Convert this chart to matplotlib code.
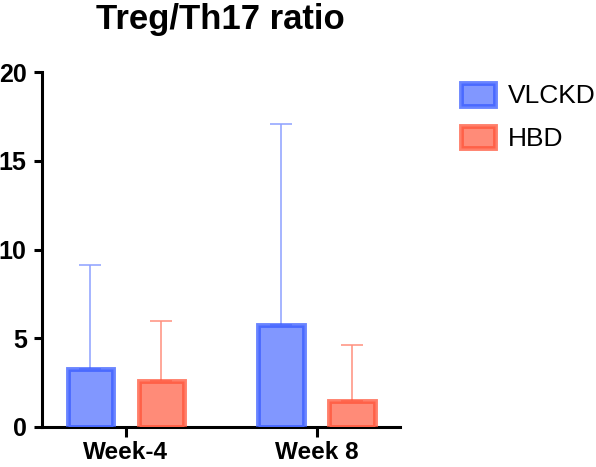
import numpy as np
import matplotlib.pyplot as plt
from matplotlib.patches import Patch

# Data
groups = ['Week-4', 'Week 8']
series = ['VLCKD', 'HBD']
means = {'VLCKD': [3.25, 5.75], 'HBD': [2.6, 1.45]}
upper_err = {'VLCKD': [5.85, 11.3], 'HBD': [3.35, 3.15]}

fill_colors = {'VLCKD': '#8197FF', 'HBD': '#FF8B78'}
edge_colors = {'VLCKD': (0.22, 0.36, 1.0, 0.75), 'HBD': (1.0, 0.33, 0.22, 0.75)}
err_colors = {'VLCKD': '#8DA1FF', 'HBD': '#FF8F7D'}

plt.rcParams['font.family'] = ['Liberation Sans', 'DejaVu Sans']

fig = plt.figure(figsize=(5.96, 4.67), dpi=100)
ax = fig.add_axes([0.0705, 0.0857, 0.60, 0.76])

x = np.arange(len(groups))
width = 0.24
offsets = [-0.186, 0.186]

for s, off in zip(series, offsets):
    ax.bar(x + off, means[s], width=width, color=fill_colors[s],
           edgecolor=edge_colors[s], linewidth=3.5, zorder=3)
    ax.errorbar(x + off, means[s], yerr=[np.zeros(len(groups)), upper_err[s]],
                fmt='none', ecolor=err_colors[s], elinewidth=1.1,
                capsize=8, capthick=1.1, zorder=2)

ax.set_xlim(-0.44, 1.435)
ax.set_ylim(0, 20)
ax.set_yticks([0, 5, 10, 15, 20])
ax.set_xticks(x)
ax.set_xticklabels(groups)

for side in ['top', 'right']:
    ax.spines[side].set_visible(False)
for side in ['left', 'bottom']:
    ax.spines[side].set_linewidth(2.2)

ax.tick_params(axis='y', length=6, width=2.2, pad=5, labelsize=18)
ax.tick_params(axis='x', length=7, width=2.2, pad=3, labelsize=17.5)
for lbl in ax.get_xticklabels() + ax.get_yticklabels():
    lbl.set_fontweight('bold')

ax.set_title('Treg/Th17 ratio', fontsize=25, fontweight='bold', pad=31)

handles = [Patch(facecolor=fill_colors[s], edgecolor=edge_colors[s], linewidth=3.5)
           for s in series]
fig.legend(handles, series, loc='upper left', bbox_to_anchor=(0.755, 0.845),
           frameon=False, fontsize=19, handlelength=1.3, handleheight=0.95,
           handletextpad=0.5, labelspacing=0.65, borderaxespad=0)

fig.savefig('out.png', dpi=100)
